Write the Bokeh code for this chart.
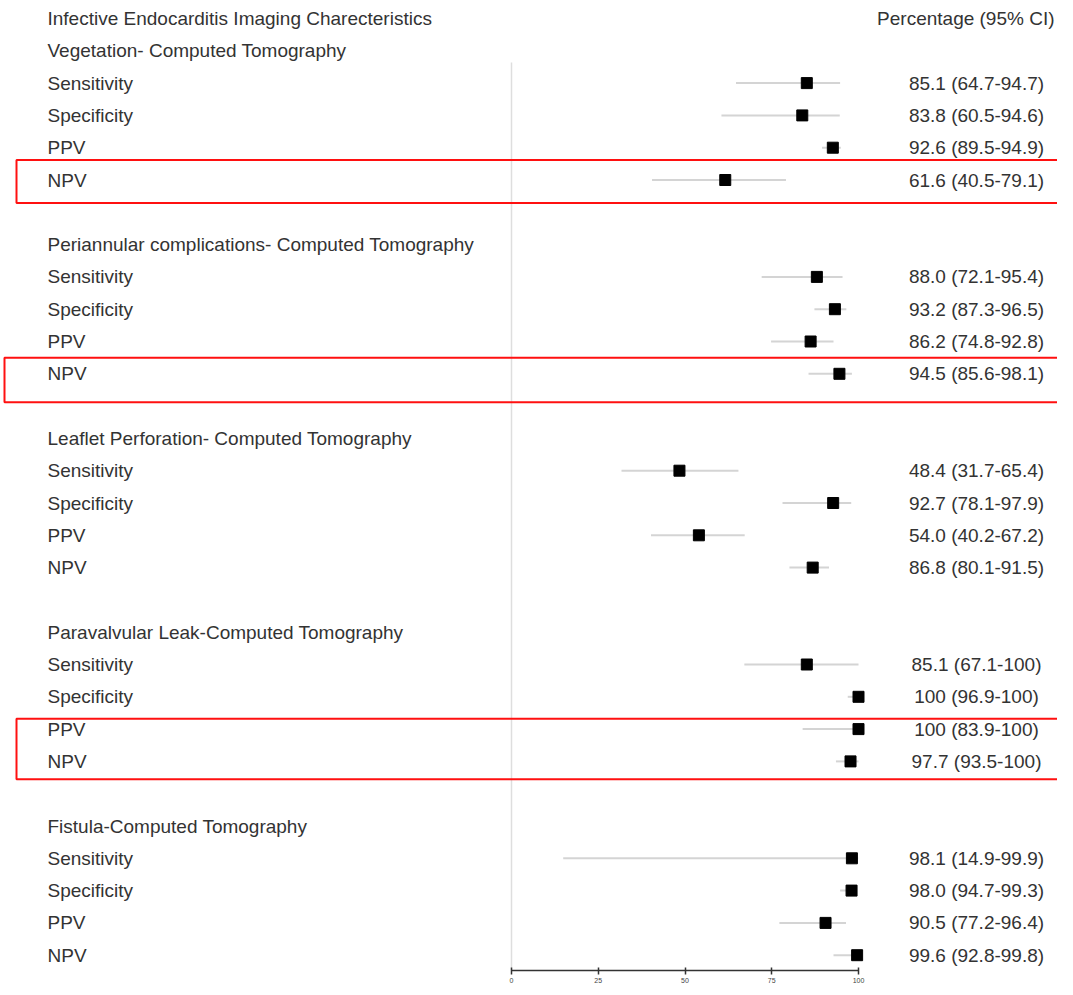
from bokeh.plotting import figure
from bokeh.models import Range1d, FixedTicker, LinearAxis, ColumnDataSource
from bokeh.core.properties import value
from bokeh.embed import file_html
from bokeh.resources import INLINE

# ---------------- data ----------------
title = "Infective Endocarditis Imaging Charecteristics"
right_header = "Percentage (95% CI)"
groups = [
    "Vegetation- Computed Tomography",
    "Periannular complications- Computed Tomography",
    "Leaflet Perforation- Computed Tomography",
    "Paravalvular Leak-Computed Tomography",
    "Fistula-Computed Tomography",
]
measures = ["Sensitivity", "Specificity", "PPV", "NPV"]
estimates = [
    [85.1, 83.8, 92.6, 61.6],
    [88.0, 93.2, 86.2, 94.5],
    [48.4, 92.7, 54.0, 86.8],
    [85.1, 100, 100, 97.7],
    [98.1, 98.0, 90.5, 99.6],
]
lower = [
    [64.7, 60.5, 89.5, 40.5],
    [72.1, 87.3, 74.8, 85.6],
    [31.7, 78.1, 40.2, 80.1],
    [67.1, 96.9, 83.9, 93.5],
    [14.9, 94.7, 77.2, 92.8],
]
upper = [
    [94.7, 94.6, 94.9, 79.1],
    [95.4, 96.5, 92.8, 98.1],
    [65.4, 97.9, 67.2, 91.5],
    [100, 100, 100, 100],
    [99.9, 99.3, 96.4, 99.8],
]
labels_right = [
    ["85.1 (64.7-94.7)", "83.8 (60.5-94.6)", "92.6 (89.5-94.9)", "61.6 (40.5-79.1)"],
    ["88.0 (72.1-95.4)", "93.2 (87.3-96.5)", "86.2 (74.8-92.8)", "94.5 (85.6-98.1)"],
    ["48.4 (31.7-65.4)", "92.7 (78.1-97.9)", "54.0 (40.2-67.2)", "86.8 (80.1-91.5)"],
    ["85.1 (67.1-100)", "100 (96.9-100)", "100 (83.9-100)", "97.7 (93.5-100)"],
    ["98.1 (14.9-99.9)", "98.0 (94.7-99.3)", "90.5 (77.2-96.4)", "99.6 (92.8-99.8)"],
]
x_ticks = [0, 25, 50, 75, 100]
# highlighted (group index, first measure index, last measure index)
highlights = [(0, 3, 3), (1, 3, 3), (3, 2, 3)]

# ---------------- layout ----------------
FW, FH = 1057, 970
PX_PER_UNIT = 3.47
ZERO_PX = 511            # x of value 0 inside the frame
ROW0_PX, ROW_H = 18, 32.3
x_start = -ZERO_PX / PX_PER_UNIT
x_end = x_start + FW / PX_PER_UNIT
r_top = -ROW0_PX / ROW_H
r_bottom = r_top + FH / ROW_H

def px_to_x(px):
    return x_start + px / PX_PER_UNIT

p = figure(frame_width=FW, frame_height=FH, output_backend="svg", toolbar_location=None,
           x_range=Range1d(x_start, x_end), y_range=Range1d(r_bottom, r_top),
           x_axis_location=None, y_axis_location=None,
           min_border_left=0, min_border_right=0, min_border_top=0, min_border_bottom=0)
p.outline_line_color = None
p.xgrid.visible = False
p.ygrid.visible = False
p.background_fill_color = "white"

# rows
head_rows, head_text = [0], [title]
item_rows, item_names, est, lo, hi, rtxt = [], [], [], [], [], []
row = 1
group_start = []
for g, name in enumerate(groups):
    head_rows.append(row)
    head_text.append(name)
    group_start.append(row + 1)
    for m, meas in enumerate(measures):
        r = row + 1 + m
        item_rows.append(r)
        item_names.append(meas)
        est.append(estimates[g][m])
        lo.append(lower[g][m])
        hi.append(upper[g][m])
        rtxt.append(labels_right[g][m])
    row += 6

font = value("Liberation Sans")
tcol = "#333333"
fs = "19px"
left_x = px_to_x(47)
right_x = px_to_x(976)

# zero line
p.segment(x0=[0], y0=[1.36], x1=[0], y1=[r_bottom], line_color="#dedede", line_width=1.5)

# red highlight boxes
bl, br, bt, bb = [], [], [], []
pads = [(-0.62, 0.71), (-0.5, 0.88), (-0.32, 0.55)]
lefts = [16, 4, 16]
for (g, m0, m1), (pt, pb), lp in zip(highlights, pads, lefts):
    bl.append(px_to_x(lp))
    br.append(x_end + 5)
    bt.append(group_start[g] + m0 + pt)
    bb.append(group_start[g] + m1 + pb)
p.quad(left=bl, right=br, top=bt, bottom=bb, fill_color=None, line_color="#ff1010", line_width=2)

src = ColumnDataSource(dict(y=item_rows, name=item_names, est=est, lo=lo, hi=hi, rt=rtxt,
                            lx=[left_x] * len(item_rows), rx=[right_x] * len(item_rows)))
p.segment(x0="lo", y0="y", x1="hi", y1="y", source=src, line_color="#d4d4d4", line_width=2)
p.scatter(x="est", y="y", source=src, marker="square", size=11, fill_color="black", line_color="black")
p.text(x="lx", y="y", text="name", source=src, text_font=font, text_font_size=fs,
       text_color=tcol, text_baseline="middle", text_align="left")
p.text(x="rx", y="y", text="rt", source=src, text_font=font, text_font_size=fs,
       text_color=tcol, text_baseline="middle", text_align="center")

hsrc = ColumnDataSource(dict(y=head_rows, t=head_text, x=[left_x] * len(head_rows)))
p.text(x="x", y="y", text="t", source=hsrc, text_font=font, text_font_size=fs,
       text_color=tcol, text_baseline="middle", text_align="left")
p.text(x=[px_to_x(1054)], y=[0], text=[right_header], text_font=font, text_font_size=fs,
       text_color=tcol, text_baseline="middle", text_align="right")

ax = LinearAxis(ticker=FixedTicker(ticks=x_ticks), bounds=(0, 100))
ax.axis_line_color = "#333333"
ax.axis_line_width = 1.5
ax.major_tick_line_color = "#333333"
ax.major_tick_line_width = 1.5
ax.major_tick_in = 3
ax.major_tick_out = 4
ax.minor_tick_line_color = None
ax.major_label_text_font_size = "7px"
ax.major_label_text_color = "#444444"
ax.major_label_standoff = 3
ax.major_label_text_font = "Liberation Sans"
p.add_layout(ax, "below")

open("out.html", "w").write(file_html(p, INLINE))
